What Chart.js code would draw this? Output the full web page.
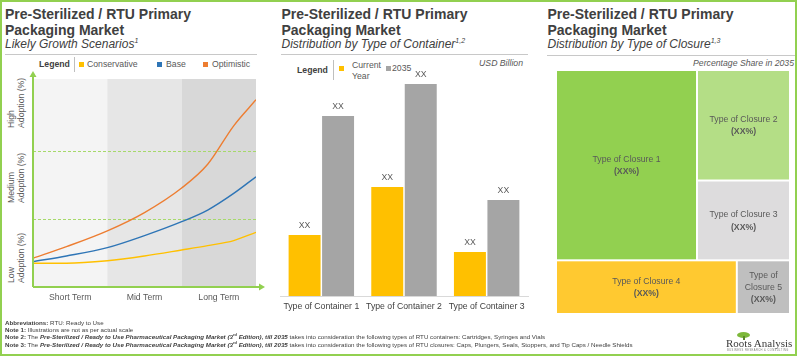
<!DOCTYPE html>
<html><head><meta charset="utf-8">
<script src="https://cdn.jsdelivr.net/npm/chart.js@4.4.1/dist/chart.umd.min.js"></script>
<style>
html,body{margin:0;padding:0;background:#fff;}
body{width:800px;height:357px;position:relative;overflow:hidden;font-family:"Liberation Sans",Arial,sans-serif;color:#404040;}
.abs{position:absolute;white-space:nowrap;}
.frame{position:absolute;left:0;top:0;width:793px;height:352px;border:2px solid #92D050;}
.title{font-weight:bold;font-size:14px;line-height:16px;color:#404040;}
.sub{font-style:italic;font-size:12px;line-height:14px;color:#404040;}
.sub sup{font-size:7px;vertical-align:5px;line-height:0;}
.rule{position:absolute;height:1px;background:#C8C8C8;}
.vrule{position:absolute;width:1px;background:#BFBFBF;}
.lg{font-size:8.7px;line-height:10px;color:#595959;}
.lgb{font-size:8.7px;line-height:10px;color:#404040;font-weight:bold;}
.sq{position:absolute;width:5px;height:5px;}
.ylab{position:absolute;font-size:8.7px;line-height:10px;color:#595959;transform:rotate(-90deg);transform-origin:0 0;white-space:nowrap;}
.note{font-size:6.2px;line-height:7.4px;color:#404040;}
.note b{font-weight:bold;}
canvas{position:absolute;}
</style></head>
<body>
<div class="frame"></div>

<!-- Panel 1 -->
<div class="abs title" style="left:5px;top:5.5px;">Pre-Sterilized / RTU Primary<br>Packaging Market</div>
<div class="abs sub" style="left:5px;top:37.3px;">Likely Growth Scenarios<sup>1</sup></div>
<div class="rule" style="left:5px;top:54px;width:252px;"></div>
<div class="abs lgb" style="left:39px;top:59.3px;">Legend</div>
<div class="vrule" style="left:74px;top:57px;height:15px;"></div>
<div class="sq" style="left:79px;top:62px;background:#FFC000;"></div>
<div class="abs lg" id="lg0" style="left:87px;top:59.3px;"></div>
<div class="sq" style="left:157px;top:62px;background:#2E75B6;"></div>
<div class="abs lg" id="lg1" style="left:166px;top:59.3px;"></div>
<div class="sq" style="left:203px;top:62px;background:#ED7D31;"></div>
<div class="abs lg" id="lg2" style="left:212px;top:59.3px;"></div>
<div class="ylab" style="left:6px;top:128px;">High<br>Adoption (%)</div>
<div class="ylab" style="left:6px;top:203px;">Medium<br>Adoption (%)</div>
<div class="ylab" style="left:6px;top:283px;">Low<br>Adoption (%)</div>
<canvas id="c1" width="268" height="250" style="left:0;top:60px;"></canvas>

<!-- Panel 2 -->
<div class="abs title" style="left:281.5px;top:5.5px;">Pre-Sterilized / RTU Primary<br>Packaging Market</div>
<div class="abs sub" style="left:281.5px;top:37.3px;">Distribution by Type of Container<sup>1,2</sup></div>
<div class="rule" style="left:281px;top:54px;width:247px;"></div>
<div class="abs lgb" style="left:297px;top:65px;">Legend</div>
<div class="vrule" style="left:333px;top:60px;height:20px;"></div>
<div class="sq" style="left:339px;top:66px;background:#FFC000;"></div>
<div class="abs lg" style="left:352px;top:60px;line-height:11px;">Current<br>Year</div>
<div class="sq" style="left:386px;top:66px;background:#A5A5A5;"></div>
<div class="abs lg" style="left:392px;top:63px;">2035</div>
<div class="abs lg" style="left:440px;top:57.7px;width:83px;text-align:right;font-style:italic;">USD Billion</div>
<canvas id="c2" width="270" height="264" style="left:270px;top:56px;"></canvas>

<!-- Panel 3 -->
<div class="abs title" style="left:547.5px;top:5.5px;">Pre-Sterilized / RTU Primary<br>Packaging Market</div>
<div class="abs sub" style="left:547.5px;top:37.3px;">Distribution by Type of Closure<sup>1,3</sup></div>
<div class="rule" style="left:547px;top:55px;width:248px;"></div>
<div class="abs lg" style="left:660px;top:57.7px;width:134px;text-align:right;font-style:italic;">Percentage Share in 2035</div>
<canvas id="c3" width="252" height="260" style="left:545px;top:60px;"></canvas>

<!-- Notes -->
<div class="abs note" style="left:5px;top:318.5px;">
<b>Abbreviations:</b> RTU: Ready to Use<br>
<b>Note 1:</b> Illustrations are not as per actual scale<br>
<b>Note 2:</b> The <b><i>Pre-Sterilized / Ready to Use Pharmaceutical Packaging Market (3<sup style="font-size:4px;line-height:0;">rd</sup> Edition), till 2035</i></b> takes into consideration the following types of RTU containers: Cartridges, Syringes and Vials<br>
<b>Note 3:</b> The <b><i>Pre-Sterilized / Ready to Use Pharmaceutical Packaging Market (3<sup style="font-size:4px;line-height:0;">rd</sup> Edition), till 2035</i></b> takes into consideration the following types of RTU closures: Caps, Plungers, Seals, Stoppers, and Tip Caps / Needle Shields
</div>
<div class="abs" style="left:737px;top:332px;width:13px;height:6px;border-radius:50%;background:#7DB83A;"></div>
<div class="abs" style="left:742.5px;top:336px;width:2px;height:4px;background:#5A8A2A;"></div>
<div class="abs" style="left:726px;top:336.5px;font-family:'Liberation Serif','Times New Roman',serif;font-size:11px;line-height:12px;color:#3A3A3A;">Roots Analysis</div>
<div class="abs" style="left:727px;top:348.5px;font-size:2.6px;line-height:3px;color:#777;letter-spacing:0.45px;">BUSINESS RESEARCH &amp; CONSULTING</div>

<script>
// ---------- DATA ----------
const scenarioNames = ['Conservative', 'Base', 'Optimistic'];
const termLabels = ['Short Term', 'Mid Term', 'Long Term'];
const timeSteps = [0, 0.45, 1, 1.5, 2, 2.35, 2.7, 3];
const conservativeValues = [11.4, 11.4, 12.6, 14.9, 17.8, 19.9, 22.3, 26.3];
const baseValues = [12.2, 14.9, 18.9, 24.7, 31.4, 37.0, 45.0, 53.0];
const optimisticValues = [13.8, 19.4, 27.0, 35.8, 47.6, 59.0, 77.5, 90.0];
const adoptionThresholds = [32.7, 65.4];

const containerTypes = ['Type of Container 1', 'Type of Container 2', 'Type of Container 3'];
const currentYearValues = [61, 109, 44];
const year2035Values = [180, 212, 96];
const barValueLabel = 'XX';

const closureTypes = ['Type of Closure 1', 'Type of Closure 2', 'Type of Closure 3', 'Type of Closure 4', 'Type of Closure 5'];
const closureShares = [47, 18, 13, 17, 5];
const closureShareLabels = ['(XX%)', '(XX%)', '(XX%)', '(XX%)', '(XX%)'];

// ---------- STYLES ----------
const scenarioColors = ['#FFC000', '#2E75B6', '#ED7D31'];
const bandColors = ['#F4F4F4', '#E6E6E6', '#D8D8D8'];
const axisGreen = '#92D050';
const barColors = ['#FFC000', '#A5A5A5'];
const closureColors = ['#92D050', '#B4DE86', '#DDDCDD', '#FFC930', '#BFBFBF'];
const FONT = '"Liberation Sans", Arial, sans-serif';

Chart.defaults.font.family = FONT;
Chart.defaults.color = '#595959';

scenarioNames.forEach((n, i) => { document.getElementById('lg' + i).textContent = n; });

// ---------- CHART 1 : growth scenarios ----------
const seriesValues = [conservativeValues, baseValues, optimisticValues];
const bandsPlugin = {
  id: 'bands',
  beforeDatasetsDraw(chart) {
    const { ctx, chartArea: a, scales: { x, y } } = chart;
    ctx.save();
    termLabels.forEach((t, i) => {
      const x0 = x.getPixelForValue(i), x1 = x.getPixelForValue(i + 1);
      ctx.fillStyle = bandColors[i];
      ctx.fillRect(x0, a.top, x1 - x0, a.bottom - a.top);
    });
    ctx.strokeStyle = '#A6D96A';
    ctx.lineWidth = 1;
    ctx.setLineDash([3, 2]);
    adoptionThresholds.forEach(v => {
      const py = Math.round(y.getPixelForValue(v)) + 0.5;
      ctx.beginPath(); ctx.moveTo(a.left, py); ctx.lineTo(a.right, py); ctx.stroke();
    });
    ctx.restore();
  },
  afterDraw(chart) {
    const { ctx, chartArea: a } = chart;
    ctx.save();
    ctx.strokeStyle = axisGreen; ctx.fillStyle = axisGreen; ctx.lineWidth = 2;
    ctx.beginPath(); ctx.moveTo(a.left, a.bottom); ctx.lineTo(a.left, a.top - 4); ctx.stroke();
    ctx.beginPath(); ctx.moveTo(a.left - 3.5, a.top - 2); ctx.lineTo(a.left, a.top - 8); ctx.lineTo(a.left + 3.5, a.top - 2); ctx.closePath(); ctx.fill();
    ctx.beginPath(); ctx.moveTo(a.left, a.bottom); ctx.lineTo(a.right + 5, a.bottom); ctx.stroke();
    ctx.beginPath(); ctx.moveTo(a.right + 3, a.bottom - 3.5); ctx.lineTo(a.right + 9, a.bottom); ctx.lineTo(a.right + 3, a.bottom + 3.5); ctx.closePath(); ctx.fill();
    ctx.restore();
  }
};

new Chart(document.getElementById('c1'), {
  type: 'line',
  data: {
    datasets: scenarioNames.map((n, i) => ({
      label: n,
      data: timeSteps.map((t, k) => ({ x: t, y: seriesValues[i][k] })),
      borderColor: scenarioColors[i],
      borderWidth: 1.4,
      pointRadius: 0,
      tension: 0.4,
      cubicInterpolationMode: 'monotone',
      fill: false
    }))
  },
  options: {
    responsive: false, animation: false, devicePixelRatio: 1,
    layout: { padding: { left: 33, right: 12, top: 19, bottom: 0 } },
    plugins: { legend: { display: false }, tooltip: { enabled: false } },
    scales: {
      x: {
        type: 'linear', min: 0, max: 3,
        grid: { display: false, drawTicks: false }, border: { display: false },
        afterBuildTicks: s => { s.ticks = termLabels.map((t, i) => ({ value: i + 0.5 })); },
        ticks: { autoSkip: false, maxRotation: 0, padding: 5, font: { size: 8.7 }, color: '#595959',
          callback: (v) => termLabels[Math.floor(v)] },
        afterFit: s => { s.height = 23; }
      },
      y: { type: 'linear', min: 0, max: 100, display: false }
    }
  },
  plugins: [bandsPlugin]
});

// ---------- CHART 2 : containers ----------
const barLabelPlugin = {
  id: 'barLabels',
  afterDatasetsDraw(chart) {
    const { ctx } = chart;
    ctx.save();
    ctx.font = '8.7px ' + FONT; ctx.fillStyle = '#595959';
    ctx.textAlign = 'center'; ctx.textBaseline = 'middle';
    chart.data.datasets.forEach((d, di) => {
      chart.getDatasetMeta(di).data.forEach(bar => {
        ctx.fillText(barValueLabel, bar.x, bar.y - 9);
      });
    });
    ctx.restore();
  }
};
new Chart(document.getElementById('c2'), {
  type: 'bar',
  data: {
    labels: containerTypes,
    datasets: [
      { label: 'Current Year', data: currentYearValues, backgroundColor: barColors[0] },
      { label: '2035', data: year2035Values, backgroundColor: barColors[1] }
    ]
  },
  options: {
    responsive: false, animation: false, devicePixelRatio: 1,
    categoryPercentage: 0.81, barPercentage: 0.955,
    layout: { padding: { left: 10, right: 12, top: 20, bottom: 0 } },
    plugins: { legend: { display: false }, tooltip: { enabled: false } },
    scales: {
      x: {
        grid: { display: false, drawTicks: false },
        border: { display: true, color: '#D9D9D9', width: 1 },
        ticks: { padding: 5, font: { size: 8.7 }, color: '#404040', maxRotation: 0, autoSkip: false },
        afterFit: s => { s.height = 24; }
      },
      y: { min: 0, max: 220, display: false }
    }
  },
  plugins: [barLabelPlugin]
});

// ---------- CHART 3 : closures treemap ----------
function layoutClosures(shares) {
  const total = shares.reduce((a, b) => a + b, 0);
  const topSum = shares[0] + shares[1] + shares[2];
  const topH = topSum / total * 100;
  const w0 = shares[0] / topSum * 100;
  const h1 = shares[1] / (shares[1] + shares[2]) * topH;
  const w3 = shares[3] / (shares[3] + shares[4]) * 100;
  const yTopBottom = 100 - topH;
  return [
    { x0: 0, x1: w0, y0: yTopBottom, y1: 100 },
    { x0: w0, x1: 100, y0: 100 - h1, y1: 100 },
    { x0: w0, x1: 100, y0: yTopBottom, y1: 100 - h1 },
    { x0: 0, x1: w3, y0: 0, y1: yTopBottom },
    { x0: w3, x1: 100, y0: 0, y1: yTopBottom }
  ];
}
const closureRects = layoutClosures(closureShares);

function wrapWords(ctx, text, maxW) {
  const words = text.split(' ');
  const lines = [];
  let cur = '';
  words.forEach(w => {
    const t = cur ? cur + ' ' + w : w;
    if (ctx.measureText(t).width > maxW && cur) { lines.push(cur); cur = w; } else cur = t;
  });
  if (cur) lines.push(cur);
  return lines;
}

const treemapPlugin = {
  id: 'treemap',
  afterDatasetsDraw(chart) {
    const { ctx, scales: { x, y } } = chart;
    ctx.save();
    closureRects.forEach((r, i) => {
      const left = x.getPixelForValue(r.x0), right = x.getPixelForValue(r.x1);
      const top = y.getPixelForValue(r.y1), bottom = y.getPixelForValue(r.y0);
      ctx.fillStyle = closureColors[i];
      ctx.fillRect(left + 1, top + 1, right - left - 2, bottom - top - 2);
      ctx.font = '8.7px ' + FONT;
      const lines = wrapWords(ctx, closureTypes[i], right - left - 8);
      const lh = 11.5;
      const all = lines.length + 1;
      const cx = (left + right) / 2, cy = (top + bottom) / 2;
      let yy = cy - (all - 1) * lh / 2;
      ctx.fillStyle = '#595959'; ctx.textAlign = 'center'; ctx.textBaseline = 'middle';
      lines.forEach(l => { ctx.fillText(l, cx, yy); yy += lh; });
      ctx.font = 'bold 8.7px ' + FONT;
      ctx.fillText(closureShareLabels[i], cx, yy + 1);
    });
    ctx.restore();
  }
};
new Chart(document.getElementById('c3'), {
  type: 'scatter',
  data: {
    datasets: [{
      label: 'Closures',
      data: closureRects.map((r, i) => ({ x: (r.x0 + r.x1) / 2, y: (r.y0 + r.y1) / 2, v: closureShares[i] })),
      pointRadius: 0
    }]
  },
  options: {
    responsive: false, animation: false, devicePixelRatio: 1,
    layout: { padding: { left: 11, right: 7, top: 10, bottom: 6 } },
    plugins: { legend: { display: false }, tooltip: { enabled: false } },
    scales: {
      x: { type: 'linear', min: 0, max: 100, display: false },
      y: { type: 'linear', min: 0, max: 100, display: false }
    }
  },
  plugins: [treemapPlugin]
});
</script>
</body></html>
